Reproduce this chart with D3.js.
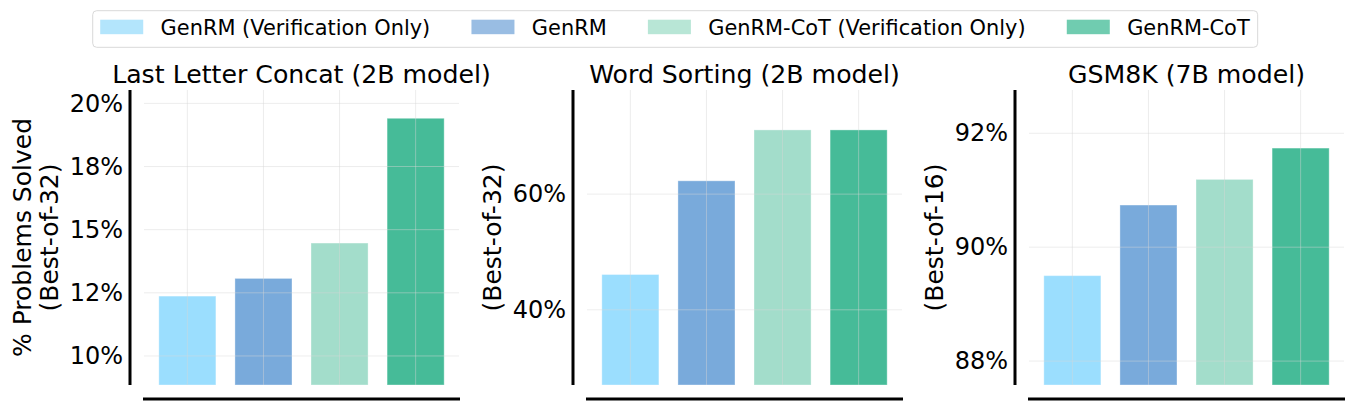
<!DOCTYPE html>
<html>
<head>
<meta charset="utf-8">
<script src="https://cdn.jsdelivr.net/npm/d3@7"></script>
<style>
  body { margin: 0; background: #fff; }
  text { font-family: "DejaVu Sans", sans-serif; fill: #000; }
</style>
</head>
<body>
<div id="chart"></div>
<script>
// Series shown in every panel (one bar each).
var seriesNames = ["GenRM (Verification Only)", "GenRM", "GenRM-CoT (Verification Only)", "GenRM-CoT"];
var barColors = ["#9bdefe", "#79aadb", "#a3ddcb", "#46bb98"];
var legendColors = ["#b3e5fc", "#99bde3", "#b8e6d6", "#70ccb0"];

// Panel titles and y labels.
var panelTitles = ["Last Letter Concat (2B model)", "Word Sorting (2B model)", "GSM8K (7B model)"];
var yLabels = [["% Problems Solved", "(Best-of-32)"], ["", "(Best-of-32)"], ["", "(Best-of-16)"]];

// Values (% problems solved).
var lastLetterValues = [12.37, 13.07, 14.47, 19.41];
var wordSortingValues = [46.1, 62.3, 71.1, 71.1];
var gsm8kValues = [89.5, 90.74, 91.19, 91.74];

// Y ranges, ticks and their printed labels.
var lastLetterDomain = [8.85, 20.53];
var wordSortingDomain = [27.0, 78.0];
var gsm8kDomain = [87.58, 92.76];
var lastLetterTicks = [10, 12.5, 15, 17.5, 20];
var wordSortingTicks = [40, 60];
var gsm8kTicks = [88, 90, 92];
var lastLetterTickLabels = ["10%", "12%", "15%", "18%", "20%"];
var wordSortingTickLabels = ["40%", "60%"];
var gsm8kTickLabels = ["88%", "90%", "92%"];

var panels = [
  { values: lastLetterValues, domain: lastLetterDomain, ticks: lastLetterTicks, labels: lastLetterTickLabels },
  { values: wordSortingValues, domain: wordSortingDomain, ticks: wordSortingTicks, labels: wordSortingTickLabels },
  { values: gsm8kValues, domain: gsm8kDomain, ticks: gsm8kTicks, labels: gsm8kTickLabels }
];

var W = 1354, H = 410;
var panelLefts = [144, 587, 1029];
var panelTop = 90, panelW = 315, panelH = 295;
var spineOffset = 14;
var barWidth = 0.75;

var svg = d3.select("#chart").append("svg")
  .attr("width", W)
  .attr("height", H);

// x positions 0..3, padded like matplotlib's auto margins.
var x = d3.scaleLinear().domain([-0.57, 3.57]).range([0, panelW]);

panels.forEach(function (p, pi) {
  var g = svg.append("g")
    .attr("transform", "translate(" + panelLefts[pi] + "," + panelTop + ")");

  var y = d3.scaleLinear().domain(p.domain).range([panelH, 0]);

  // Bars.
  g.selectAll("rect.bar")
    .data(p.values)
    .enter().append("rect")
    .attr("class", "bar")
    .attr("x", function (d, i) { return x(i - barWidth / 2); })
    .attr("width", x(barWidth) - x(0))
    .attr("y", function (d) { return y(d); })
    .attr("height", function (d) { return panelH - y(d); })
    .attr("fill", function (d, i) { return barColors[i]; })
    .attr("stroke", "#ffffff")
    .attr("stroke-opacity", 0.35)
    .attr("stroke-width", 1);

  // Faint grid drawn over the bars.
  g.append("g")
    .selectAll("line")
    .data(p.ticks)
    .enter().append("line")
    .attr("x1", 0).attr("x2", panelW)
    .attr("y1", function (d) { return y(d); })
    .attr("y2", function (d) { return y(d); })
    .attr("stroke", "#d8d8d8").attr("stroke-opacity", 0.45).attr("stroke-width", 1);

  g.append("g")
    .selectAll("line")
    .data(d3.range(seriesNames.length))
    .enter().append("line")
    .attr("x1", function (d) { return x(d); })
    .attr("x2", function (d) { return x(d); })
    .attr("y1", 0).attr("y2", panelH)
    .attr("stroke", "#d8d8d8").attr("stroke-opacity", 0.45).attr("stroke-width", 1);

  // Left axis, offset from the plot like seaborn's despine(offset=...).
  var yAxis = d3.axisLeft(y)
    .tickValues(p.ticks)
    .tickFormat(function (d, i) { return p.labels[i]; })
    .tickSize(0)
    .tickPadding(7);

  var ya = g.append("g")
    .attr("transform", "translate(" + (-spineOffset) + ",0)")
    .call(yAxis);
  ya.select(".domain")
    .attr("d", "M0,0V" + panelH)
    .attr("stroke", "#000").attr("stroke-width", 3);
  ya.selectAll("text")
    .style("font-family", "DejaVu Sans")
    .style("font-size", "24px")
    .attr("fill", "#000");

  // Bottom spine only, no ticks.
  g.append("line")
    .attr("x1", -1).attr("x2", panelW + 1)
    .attr("y1", panelH + spineOffset).attr("y2", panelH + spineOffset)
    .attr("stroke", "#000").attr("stroke-width", 3);

  // Title.
  g.append("text")
    .attr("x", panelW / 2)
    .attr("y", 83 - panelTop)
    .attr("text-anchor", "middle")
    .style("font-size", "25.2px")
    .text(panelTitles[pi]);

  // Rotated y label (two lines).
  var lineOffsets = [-98.7, -72];
  yLabels[pi].forEach(function (line, li) {
    if (!line) return;
    g.append("text")
      .attr("transform", "translate(" + (-spineOffset + lineOffsets[li]) + "," + (panelH / 2) + ") rotate(-90)")
      .attr("text-anchor", "middle")
      .style("font-size", "25px")
      .text(line);
  });
});

// Legend across the top.
var legend = svg.append("g");
var legendBox = legend.append("rect")
  .attr("y", 10.7).attr("height", 36.6)
  .attr("rx", 4).attr("ry", 4)
  .attr("fill", "#fff")
  .attr("stroke", "#d9d9d9").attr("stroke-width", 1);

var cursor = 0;
var items = seriesNames.map(function (name, i) {
  var item = legend.append("g");
  item.append("rect")
    .attr("x", cursor).attr("y", 19.7)
    .attr("width", 43).attr("height", 14.5)
    .attr("fill", legendColors[i]);
  var t = item.append("text")
    .attr("x", cursor + 60.4)
    .attr("y", 35.3)
    .style("font-size", "20.9px")
    .text(name);
  cursor += 60.4 + t.node().getComputedTextLength() + 41.2;
  return item;
});
var contentW = cursor - 41.2;
var boxW = contentW + 7.5 + 8;
var boxX = 675.2 - boxW / 2;
legendBox.attr("x", boxX).attr("width", boxW);
items.forEach(function (item) {
  item.attr("transform", "translate(" + (boxX + 7.5) + ",0)");
});
</script>
</body>
</html>
